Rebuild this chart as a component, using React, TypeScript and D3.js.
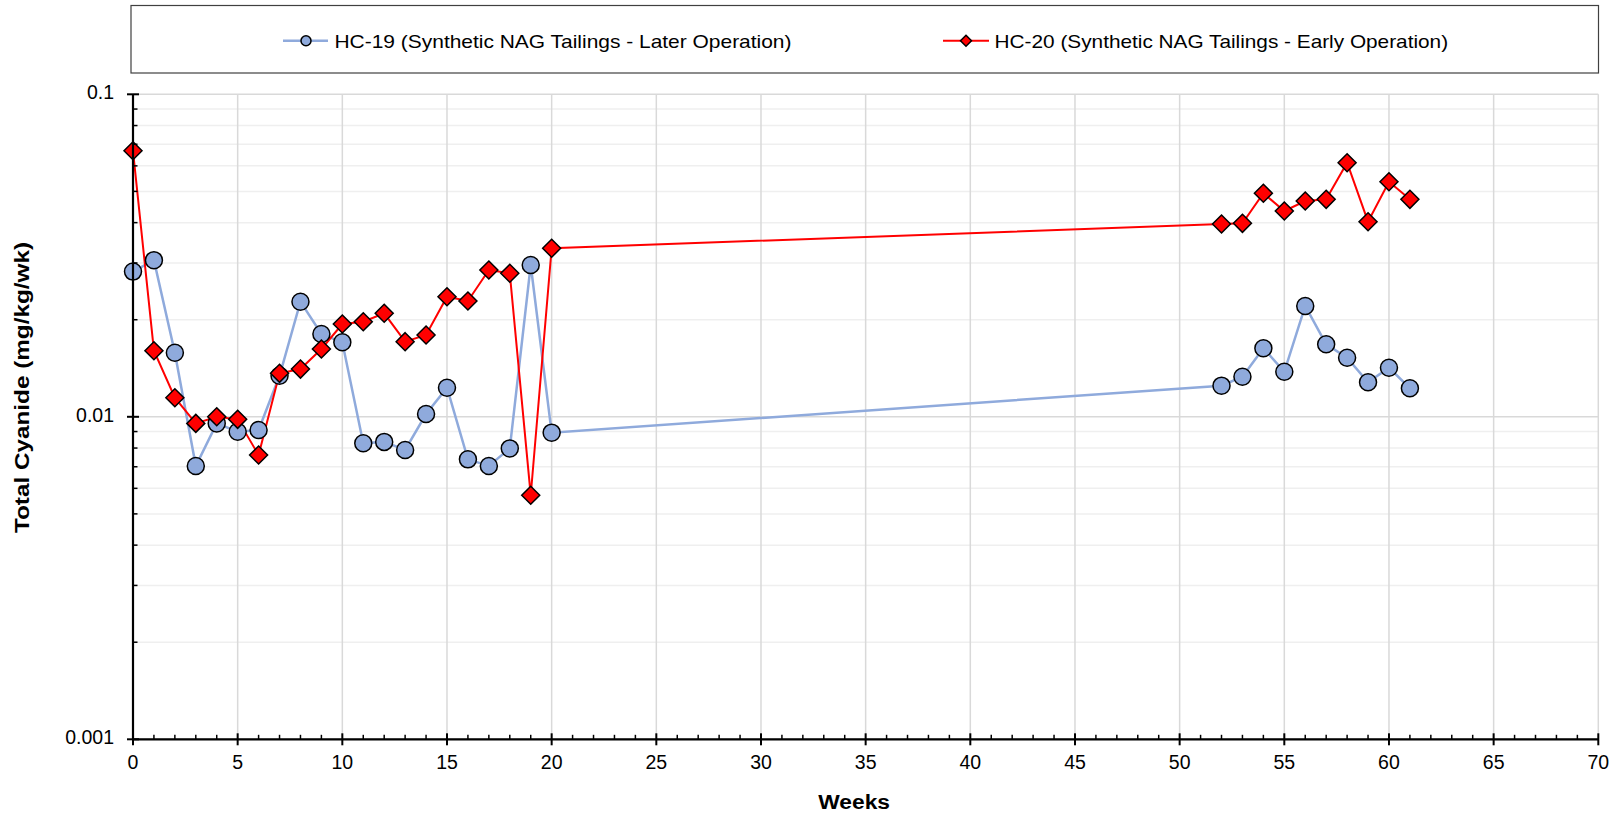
import React from "react";
import * as d3 from "d3";

const weeks19: number[] = [0,1,2,3,4,5,6,7,8,9,10,11,12,13,14,15,16,17,18,19,20,52,53,54,55,56,57,58,59,60,61];
const hc19: number[] = [0.0282,0.0306,0.0158,0.00704,0.00954,0.00899,0.0091,0.0134,0.02275,0.01806,0.01702,0.00828,0.00836,0.00789,0.0102,0.01231,0.00738,0.00704,0.00798,0.02956,0.00893,0.01249,0.01331,0.01631,0.01379,0.02206,0.01678,0.01525,0.01279,0.0142,0.01226];
const weeks20: number[] = weeks19;
const hc20: number[] = [0.0668,0.01603,0.01146,0.00954,0.01,0.00982,0.00761,0.01364,0.01406,0.01623,0.0194,0.01972,0.02094,0.0171,0.01793,0.02357,0.02286,0.02852,0.02786,0.00571,0.03331,0.03961,0.0398,0.04932,0.04346,0.04668,0.04724,0.06135,0.04027,0.05358,0.04724];

const xTicks: number[] = [0,5,10,15,20,25,30,35,40,45,50,55,60,65,70];
const yTicks: number[] = [0.001,0.01,0.1];
const yTickLabels: string[] = ["0.001","0.01","0.1"];
const seriesNames: string[] = ["HC-19 (Synthetic NAG Tailings - Later Operation)","HC-20 (Synthetic NAG Tailings - Early Operation)"];

const W = 1618, H = 817;
const L = 133, R = 1598.3, T = 94.3, B = 739.3;
const FONT = "Arial, 'Liberation Sans', sans-serif";
const BLUE = "#8faadc";
const RED = "#ff0000";

export default function App() {
  const x = d3.scaleLinear().domain([0, 70]).range([L, R]);
  const y = d3.scaleLog().domain([0.001, 0.1]).range([B, T]);

  const minorY: number[] = [];
  [0.001, 0.01].forEach((d) => {
    for (let k = 2; k <= 9; k++) minorY.push(d * k);
  });
  const minorX = d3.range(0, 71, 1).filter((v) => v % 5 !== 0);

  const line19 = d3.line<number>().x((_, i) => x(weeks19[i])).y((d) => y(d))(hc19) || "";
  const line20 = d3.line<number>().x((_, i) => x(weeks20[i])).y((d) => y(d))(hc20) || "";

  const dia = (cx: number, cy: number, r: number) =>
    `M${cx},${cy - r}L${cx + r},${cy}L${cx},${cy + r}L${cx - r},${cy}Z`;

  return (
    <div style={{ position: "absolute", left: 0, top: 0 }}>
      <svg width={W} height={H} style={{ display: "block", background: "#fff" }} fontFamily={FONT}>
        <rect x={0} y={0} width={W} height={H} fill="#fff" />
        {minorY.map((v, i) => (
          <line key={"my" + i} x1={L} x2={R} y1={y(v)} y2={y(v)} stroke="#efefef" strokeWidth={1.5} />
        ))}
        {yTicks.map((v, i) => (
          <line key={"gy" + i} x1={L} x2={R} y1={y(v)} y2={y(v)} stroke="#d9d9d9" strokeWidth={1.5} />
        ))}
        {xTicks.map((v, i) => (
          <line key={"gx" + i} x1={x(v)} x2={x(v)} y1={T} y2={B} stroke="#d9d9d9" strokeWidth={1.5} />
        ))}

        <path d={line19} fill="none" stroke={BLUE} strokeWidth={2.5} />
        <path d={line20} fill="none" stroke={RED} strokeWidth={2} />

        {hc19.map((v, i) => (
          <circle key={"c" + i} cx={x(weeks19[i])} cy={y(v)} r={8.5} fill={BLUE} stroke="#000" strokeWidth={1.5} />
        ))}
        {hc20.map((v, i) => (
          <path key={"d" + i} d={dia(x(weeks20[i]), y(v), 9)} fill={RED} stroke="#000" strokeWidth={1.5} />
        ))}

        <line x1={L} x2={R} y1={B} y2={B} stroke="#000" strokeWidth={2.2} />
        <line x1={L} x2={L} y1={T} y2={B} stroke="#000" strokeWidth={2.2} />
        {minorX.map((v, i) => (
          <line key={"mx" + i} x1={x(v)} x2={x(v)} y1={B - 4.5} y2={B} stroke="#000" strokeWidth={1.5} />
        ))}
        {xTicks.map((v, i) => (
          <line key={"tx" + i} x1={x(v)} x2={x(v)} y1={B - 6} y2={B + 6} stroke="#000" strokeWidth={2} />
        ))}
        {minorY.map((v, i) => (
          <line key={"mty" + i} x1={L} x2={L + 4.5} y1={y(v)} y2={y(v)} stroke="#000" strokeWidth={1.5} />
        ))}
        {yTicks.map((v, i) => (
          <line key={"ty" + i} x1={L - 6} x2={L + 6} y1={y(v)} y2={y(v)} stroke="#000" strokeWidth={2} />
        ))}

        {xTicks.map((v, i) => (
          <text key={"lx" + i} x={x(v)} y={B + 25} fontSize={19.5} textAnchor="middle" dominantBaseline="middle" fill="#000">
            {v}
          </text>
        ))}
        {yTicks.map((v, i) => (
          <text key={"ly" + i} x={L - 19} y={y(v)} fontSize={19.5} textAnchor="end" dominantBaseline="middle" fill="#000">
            {yTickLabels[i]}
          </text>
        ))}

        <text x={818.3} y={809.3} fontSize={20} fontWeight="bold" textLength={71.7} lengthAdjust="spacingAndGlyphs" fill="#000">
          Weeks
        </text>
        <text transform={`translate(29,533) rotate(-90)`} fontSize={20} fontWeight="bold" textLength={291} lengthAdjust="spacingAndGlyphs" fill="#000">
          Total Cyanide (mg/kg/wk)
        </text>

        <rect x={131} y={5.5} width={1467.5} height={67.5} fill="#fff" stroke="#404040" strokeWidth={1.2} />
        <line x1={283} x2={328} y1={40.7} y2={40.7} stroke={BLUE} strokeWidth={2.5} />
        <circle cx={306} cy={40.7} r={5} fill={BLUE} stroke="#000" strokeWidth={1.5} />
        <text x={334.5} y={47.5} fontSize={19} textLength={457} lengthAdjust="spacingAndGlyphs" fill="#000">{seriesNames[0]}</text>
        <line x1={943} x2={989} y1={40.7} y2={40.7} stroke={RED} strokeWidth={2} />
        <path d={dia(966, 40.7, 5.5)} fill={RED} stroke="#000" strokeWidth={1.5} />
        <text x={994.6} y={47.5} fontSize={19} textLength={453.5} lengthAdjust="spacingAndGlyphs" fill="#000">{seriesNames[1]}</text>
      </svg>
    </div>
  );
}
